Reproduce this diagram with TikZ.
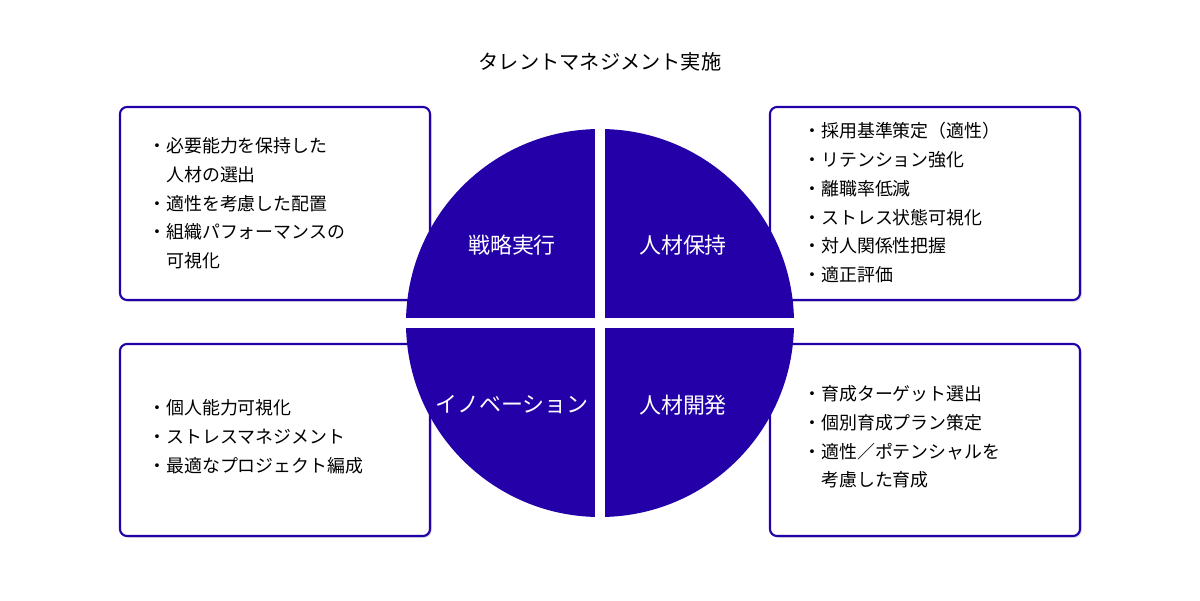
\documentclass[tikz,border=0pt]{standalone}
\usepackage{fontspec}
\setmainfont{Noto Sans CJK JP}
\usetikzlibrary{shadows}
\definecolor{quadblue}{HTML}{2300A8}
\tikzset{
  infobox/.style={draw=quadblue,line width=1.2pt,rounded corners=4pt,fill=white,
    drop shadow={shadow xshift=1pt,shadow yshift=-1pt,fill=black!25}},
  itemtext/.style={anchor=north west,align=left,inner sep=0pt,
    font=\fontsize{10.2}{16.4}\selectfont},
  quadlabel/.style={text=white,font=\fontsize{12.5}{15}\selectfont}
}
\begin{document}
\begin{tikzpicture}[x=0.02cm,y=-0.02cm]
  \useasboundingbox[fill=white] (0,0) rectangle (1200,600);
  \node[font=\fontsize{11.5}{14}\selectfont] (title) at (600,62) {タレントマネジメント実施};
  % boxes
  \draw[infobox] (120,107) rectangle (430,300);
  \draw[infobox] (770,107) rectangle (1080,300);
  \draw[infobox] (120,344) rectangle (430,536);
  \draw[infobox] (770,344) rectangle (1080,536);
  % circle with cross gap
  \fill[quadblue] (600,323) circle (194);
  \draw[white,line width=5.7pt] (600,120) -- (600,526);
  \draw[white,line width=5.7pt] (396,323) -- (804,323);
  \node[quadlabel] (strategy) at (512,245) {戦略実行};
  \node[quadlabel] (retain) at (683,245) {人材保持};
  \node[quadlabel] (innov) at (512,405) {イノベーション};
  \node[quadlabel] (develop) at (683,405) {人材開発};
  % texts
  \node[itemtext] (tl) at (148,137) {・必要能力を保持した\\\phantom{・}人材の選出\\・適性を考慮した配置\\・組織パフォーマンスの\\\phantom{・}可視化};
  \node[itemtext] (tr) at (803,122) {・採用基準策定（適性）\\・リテンション強化\\・離職率低減\\・ストレス状態可視化\\・対人関係性把握\\・適正評価};
  \node[itemtext] (bl) at (148,399) {・個人能力可視化\\・ストレスマネジメント\\・最適なプロジェクト編成};
  \node[itemtext] (br) at (803,385) {・育成ターゲット選出\\・個別育成プラン策定\\・適性／ポテンシャルを\\\phantom{・}考慮した育成};
\end{tikzpicture}
\end{document}
